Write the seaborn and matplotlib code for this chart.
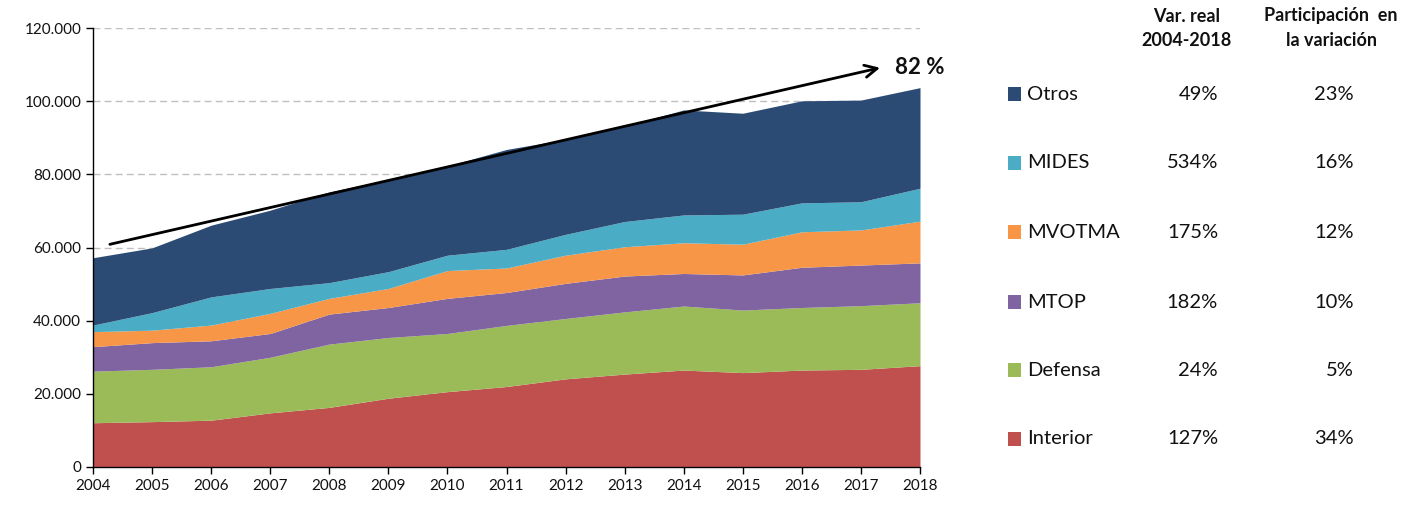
import matplotlib
matplotlib.use("Agg")
import matplotlib.pyplot as plt
from matplotlib.patches import Rectangle
from matplotlib.ticker import FuncFormatter
import seaborn as sns
import pandas as pd

years = list(range(2004, 2019))
interior = [12100, 12400, 12800, 14800, 16300, 18800, 20600, 22000, 24100, 25400, 26500, 25800, 26500, 26700, 27700]
defensa = [14100, 14300, 14600, 15200, 17300, 16600, 15900, 16700, 16500, 17000, 17500, 17100, 17100, 17400, 17200]
mtop = [6700, 7300, 7100, 6500, 8200, 8200, 9600, 9000, 9600, 9800, 8900, 9600, 11000, 11100, 10900]
mvotma = [4100, 3400, 4300, 5500, 4300, 5200, 7600, 6700, 7700, 8000, 8400, 8400, 9700, 9600, 11400]
mides = [1800, 4800, 7700, 6800, 4300, 4600, 4200, 5100, 5700, 6900, 7600, 8200, 7900, 7700, 9000]
otros = [18400, 17700, 19600, 21400, 24800, 25200, 24400, 27300, 26000, 26100, 28700, 27600, 27900, 27800, 27500]

series_names = ["Interior", "Defensa", "MTOP", "MVOTMA", "MIDES", "Otros"]
colors = ["#C0504D", "#9BBB59", "#8064A2", "#F79646", "#4BACC6", "#2C4B74"]
var_real = ["127%", "24%", "182%", "175%", "534%", "49%"]
participacion = ["34%", "5%", "10%", "12%", "16%", "23%"]

arrow_start = (2004.24, 60700)
arrow_end = (2017.37, 109300)
arrow_label = "82 %"

df = pd.DataFrame({"Año": years, "Interior": interior, "Defensa": defensa, "MTOP": mtop,
                   "MVOTMA": mvotma, "MIDES": mides, "Otros": otros})

sns.set_style("white")
plt.rcParams['font.family'] = ['Lato', 'DejaVu Sans']

W, H = 1416, 508
fig = plt.figure(figsize=(W / 100, H / 100), dpi=100)
ax = fig.add_axes([93 / W, 1 - 467 / H, (920 - 93) / W, (467 - 28) / H])

ax.stackplot(df["Año"], *[df[n] for n in series_names], colors=colors, linewidth=0, zorder=2)

ax.set_xlim(2004, 2018)
ax.set_ylim(0, 120000)
ax.set_xticks(years)
ax.set_yticks(range(0, 120001, 20000))
ax.yaxis.set_major_formatter(FuncFormatter(lambda v, p: f"{int(v):,}".replace(",", ".")))
for y in range(20000, 120001, 20000):
    ax.axhline(y, color="#BFBFBF", lw=1, ls=(0, (5, 3)), zorder=1)

for s in ["top", "right"]:
    ax.spines[s].set_visible(False)
for s in ["left", "bottom"]:
    ax.spines[s].set_color("black")
    ax.spines[s].set_linewidth(1)
ax.tick_params(axis="both", direction="out", length=5, width=1, color="black",
               labelsize=11, labelcolor="#111111", left=True, bottom=True)
ax.set_xlabel("")
ax.set_ylabel("")

ax.annotate("", xy=arrow_end, xytext=arrow_start,
            arrowprops=dict(arrowstyle="->", color="black", lw=2, mutation_scale=22), zorder=5)


def fx(px):
    return px / W


def fy(py):
    return 1 - py / H


txt = "#111111"
fig.text(fx(895), fy(67), arrow_label, fontsize=16, fontweight="bold", ha="left", va="center", color=txt)

fig.text(fx(1187), fy(16), "Var. real", fontsize=13, fontweight="bold", ha="center", va="center", color=txt)
fig.text(fx(1187), fy(41), "2004-2018", fontsize=13, fontweight="bold", ha="center", va="center", color=txt)
fig.text(fx(1331), fy(16), "Participación  en", fontsize=13, fontweight="bold", ha="center", va="center", color=txt)
fig.text(fx(1331), fy(41), "la variación", fontsize=13, fontweight="bold", ha="center", va="center", color=txt)

row_y = [439, 370, 302, 232, 163, 94]
for name, col, vr, pa, yy in zip(series_names, colors, var_real, participacion, row_y):
    fig.add_artist(Rectangle((fx(1008), fy(yy + 7)), 13 / W, 14 / H, transform=fig.transFigure,
                             facecolor=col, edgecolor="none"))
    fig.text(fx(1027), fy(yy), name, fontsize=14.5, ha="left", va="center", color=txt)
    fig.text(fx(1218), fy(yy), vr, fontsize=14.5, ha="right", va="center", color=txt)
    fig.text(fx(1354), fy(yy), pa, fontsize=14.5, ha="right", va="center", color=txt)

fig.savefig("out.png", dpi=100)
